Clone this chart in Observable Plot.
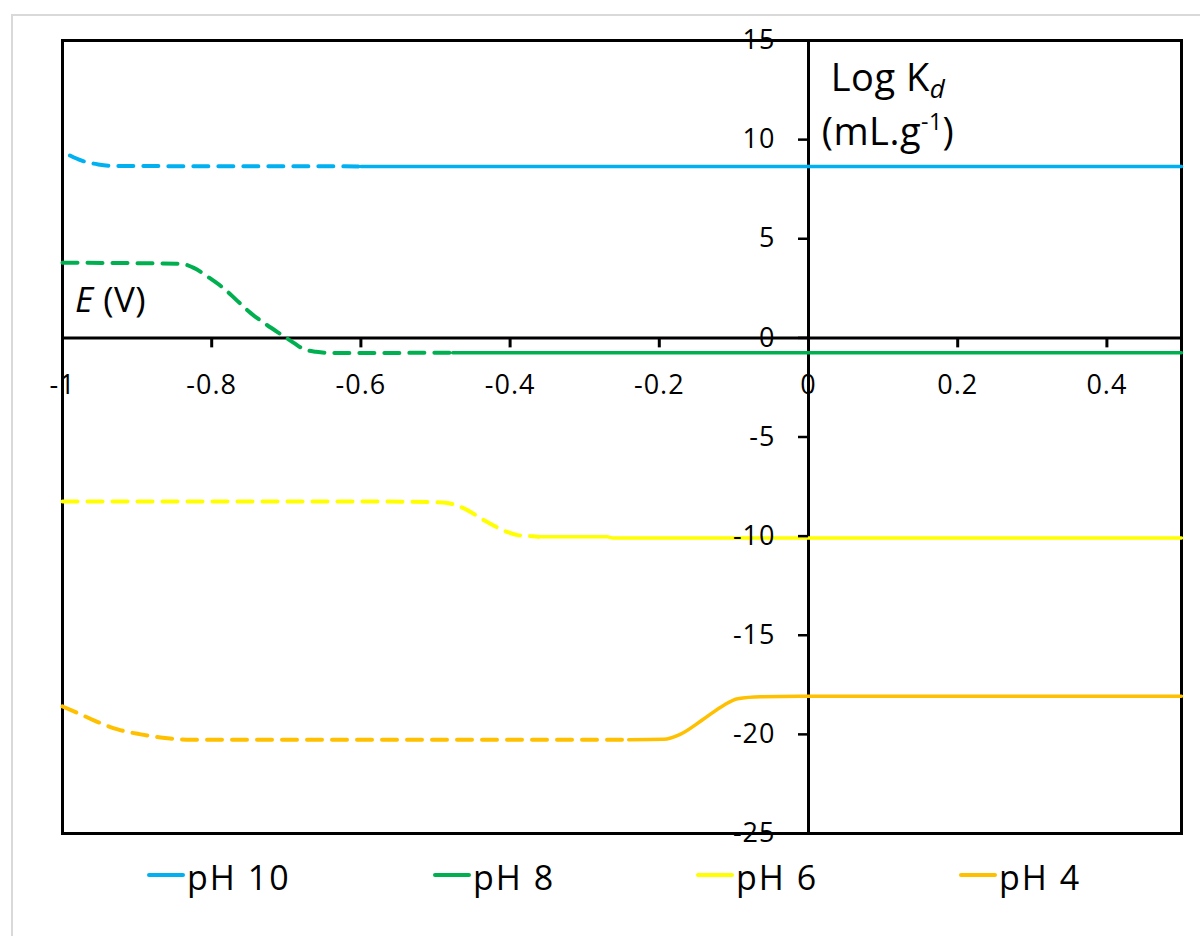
<!DOCTYPE html>
<html>
<head>
<meta charset="utf-8">
<script src="https://cdn.jsdelivr.net/npm/d3@7"></script>
<script src="https://cdn.jsdelivr.net/npm/@observablehq/plot@0.6"></script>
<style>
  html, body { margin: 0; padding: 0; background: #fff; overflow: hidden; }
  body { width: 1200px; height: 936px; position: relative; font-family: "Open Sans", sans-serif; }
  #border { position: absolute; left: 11px; top: 14px; width: 1400px; height: 1200px; border: 2px solid #d9d9d9; box-sizing: border-box; }
  #chart { position: absolute; left: 0; top: 0; }
  .lbl { position: absolute; color: #000; white-space: nowrap; }
  #ylab { font-size: 38px; line-height: 54px; text-align: center; letter-spacing: 0.5px; }
  #ylab sub { font-size: 26px; vertical-align: -7px; line-height: 0; }
  #ylab sup { font-size: 23px; vertical-align: 15px; line-height: 0; }
  #xlab { font-size: 35px; line-height: 35px; letter-spacing: 0.5px; }
  #legend { position: absolute; top: 860px; display: flex; align-items: center; font-size: 34px; line-height: 34px; letter-spacing: 2px; }
  .item { display: flex; align-items: center; }
  .item:nth-child(1) { width: 286px; }
  .item:nth-child(2), .item:nth-child(3) { width: 263px; }
  .sw { width: 38px; height: 4px; border-radius: 2px; margin-right: 2px; margin-top: -4px; }
</style>
</head>
<body>
<div id="border"></div>
<div id="chart"></div>
<script>
// Potential E (V) on the horizontal axis, log Kd on the vertical axis
const seriesNames = ["pH 10", "pH 8", "pH 6", "pH 4"];
const seriesColors = ["#00B0F0", "#00B050", "#FFFF00", "#FFC000"];

// pH 10
const ph10E     = [-0.99, -0.975, -0.952, -0.93, -0.6, 0.5];
const ph10LogKd = [9.2, 8.95, 8.75, 8.67, 8.65, 8.65];
const ph10SolidFrom = -0.6;

// pH 8
const ph8E     = [-1, -0.842, -0.824, -0.804, -0.784, -0.766, -0.748, -0.726, -0.704, -0.69, -0.677, -0.66, -0.64, -0.6, -0.477, 0.5];
const ph8LogKd = [3.79, 3.74, 3.53, 3.05, 2.5, 1.88, 1.26, 0.65, 0.1, -0.25, -0.56, -0.7, -0.76, -0.76, -0.75, -0.75];
const ph8SolidFrom = -0.477;

// pH 6
const ph6E     = [-1, -0.6, -0.49, -0.462, -0.433, -0.403, -0.39, -0.373, -0.362, -0.27, -0.262, 0.5];
const ph6LogKd = [-8.25, -8.25, -8.3, -8.6, -9.24, -9.8, -9.95, -10.0, -10.03, -10.03, -10.1, -10.1];
const ph6SolidFrom = -0.362;

// pH 4
const ph4E     = [-1, -0.978, -0.958, -0.926, -0.895, -0.859, -0.828, -0.7, -0.241, -0.194, -0.172, -0.141, -0.114, -0.095, -0.064, -0.011, 0.5];
const ph4LogKd = [-18.59, -18.95, -19.29, -19.75, -20.0, -20.2, -20.27, -20.27, -20.27, -20.25, -20.0, -19.24, -18.54, -18.2, -18.1, -18.08, -18.08];
const ph4SolidFrom = -0.241;

// Axis ticks
const xTicks = [-1, -0.8, -0.6, -0.4, -0.2, 0, 0.2, 0.4];
const yTicks = [-25, -20, -15, -10, -5, 0, 5, 10, 15];
const xDomain = [-1, 0.5];
const yDomain = [-25, 15];

// Build long-format rows; each series has a dashed part and a solid part
const rows = [];
function addSeries(name, E, K, solidFrom) {
  E.forEach((e, i) => {
    if (e <= solidFrom) rows.push({series: name, E: e, logKd: K[i], part: "dashed"});
    if (e >= solidFrom) rows.push({series: name, E: e, logKd: K[i], part: "solid"});
  });
}
addSeries("pH 10", ph10E, ph10LogKd, ph10SolidFrom);
addSeries("pH 8", ph8E, ph8LogKd, ph8SolidFrom);
addSeries("pH 6", ph6E, ph6LogKd, ph6SolidFrom);
addSeries("pH 4", ph4E, ph4LogKd, ph4SolidFrom);

const W = 1200, H = 853;
const M = {top: 40, right: 19, bottom: 20, left: 62};
// Helper scales (same domains/ranges as the plot) for sizing ticks and placing labels
const xs = d3.scaleLinear(xDomain, [M.left, W - M.right]);
const ys = d3.scaleLinear(yDomain, [H - M.bottom, M.top]);
const tickPx = 10;
const xTickLen = tickPx / (ys(0) - ys(1));       // in y data units
const yTickLen = tickPx / (xs(1) - xs(0));       // in x data units
const fmt = d => String(d);
const font = "Open Sans";

const chart = Plot.plot({
  width: W,
  height: H,
  marginTop: M.top, marginRight: M.right, marginBottom: M.bottom, marginLeft: M.left,
  style: {fontFamily: font, fontSize: "27px", color: "#000", background: "transparent", letterSpacing: "1px"},
  x: {domain: xDomain, axis: null},
  y: {domain: yDomain, axis: null},
  color: {domain: seriesNames, range: seriesColors},
  marks: [
    Plot.frame({stroke: "#000", strokeWidth: 3}),
    Plot.ruleX([0], {stroke: "#000", strokeWidth: 3}),
    Plot.ruleY([0], {stroke: "#000", strokeWidth: 3}),
    Plot.line(rows.filter(d => d.part === "dashed"), {
      x: "E", y: "logKd", z: "series", stroke: "series",
      strokeWidth: 4, strokeDasharray: "15 10", curve: "monotone-x"
    }),
    Plot.line(rows.filter(d => d.part === "solid"), {
      x: "E", y: "logKd", z: "series", stroke: "series",
      strokeWidth: 3.5, curve: "monotone-x"
    }),
    // x ticks hanging below the y = 0 axis
    Plot.ruleX(xTicks, {x: d => d, y1: 0, y2: -xTickLen, stroke: "#000", strokeWidth: 3}),
    // y ticks pointing left of the x = 0 axis
    Plot.ruleY(yTicks, {y: d => d, x1: 0, x2: -yTickLen, stroke: "#000", strokeWidth: 2.5}),
    Plot.text(xTicks, {x: d => d, y: 0, text: fmt, dy: 47, fontSize: 27, fill: "#000", textAnchor: "middle"}),
    Plot.text(yTicks, {x: 0, y: d => d, text: fmt, dx: -33, fontSize: 27, fill: "#000", textAnchor: "end"})
  ]
});
document.getElementById("chart").appendChild(chart);

// Axis titles
const yl = document.createElement("div");
yl.className = "lbl";
yl.id = "ylab";
yl.innerHTML = "Log K<sub><i>d</i></sub><br>(mL.g<sup>-1</sup>)";
yl.style.left = (xs(0) + 5) + "px";
yl.style.top = (M.top + 9) + "px";
yl.style.width = "150px";
document.body.appendChild(yl);

const xl = document.createElement("div");
xl.className = "lbl";
xl.id = "xlab";
xl.innerHTML = "<i>E</i> (V)";
xl.style.left = (xs(-1) + 13) + "px";
xl.style.top = (ys(0) - 56) + "px";
document.body.appendChild(xl);

// Legend below the plot
const lg = document.createElement("div");
lg.id = "legend";
lg.style.left = "147px";
seriesNames.forEach((name, i) => {
  const it = document.createElement("div");
  it.className = "item";
  const sw = document.createElement("span");
  sw.className = "sw";
  sw.style.background = seriesColors[i];
  const tx = document.createElement("span");
  tx.textContent = name;
  it.appendChild(sw);
  it.appendChild(tx);
  lg.appendChild(it);
});
document.body.appendChild(lg);
</script>
</body>
</html>
